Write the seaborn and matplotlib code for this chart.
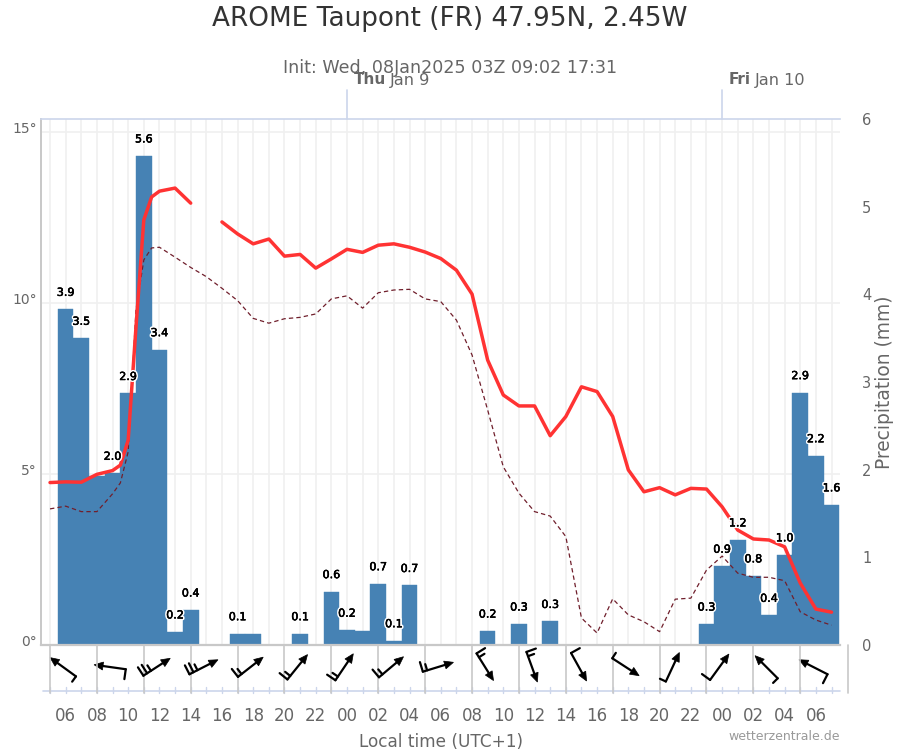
import numpy as np
import pandas as pd
import matplotlib
matplotlib.use("Agg")
import matplotlib.pyplot as plt
import matplotlib.patheffects as pe
from matplotlib.transforms import ScaledTranslation
import seaborn as sns

# hours relative to Thu 00 local time
rain_hours = list(range(-18, 32))
rain = [3.83, 3.50, 1.93, 1.96, 2.87, 5.58, 3.37, 0.15, 0.40, 0, 0, 0.13, 0.13, 0, 0, 0.13, 0,
        0.61, 0.17, 0.16, 0.70, 0.05, 0.68, 0, 0, 0, 0, 0.16, 0, 0.24, 0, 0.27, 0, 0, 0, 0, 0, 0, 0, 0, 0,
        0.24, 0.90, 1.20, 0.79, 0.34, 1.03, 2.88, 2.16, 1.60]
rain_labels = ["3.9", "3.5", "", "2.0", "2.9", "5.6", "3.4", "0.2", "0.4", "", "", "0.1", "", "", "", "0.1", "",
               "0.6", "0.2", "", "0.7", "0.1", "0.7", "", "", "", "", "0.2", "", "0.3", "", "0.3", "", "", "", "", "", "", "", "", "",
               "0.3", "0.9", "1.2", "0.8", "0.4", "1.0", "2.9", "2.2", "1.6"]

grid_hours = list(range(-19, 32))
temp_hours = [-19, -18, -17, -16, -15, -14.5, -14, -13.5, -13, -12.5] + list(range(-12, 32))
temp = [4.75, 4.77, 4.76, 4.99, 5.10, 5.26, 5.99, 9.30, 12.43, 13.10, 13.27, 13.36, 12.92, np.nan, 12.37, 12.02, 11.73, 11.87,
        11.37, 11.42, 11.02, 11.29, 11.57, 11.48, 11.69, 11.73, 11.63, 11.49, 11.30, 10.96, 10.26, 8.33,
        7.31, 6.99, 6.99, 6.12, 6.68, 7.55, 7.41, 6.68, 5.12, 4.48, 4.60, 4.39, 4.58, 4.56, 4.04, 3.36,
        3.10, 3.07, 2.87, 1.81, 1.05, 0.96]
dewpoint = [3.98, 4.06, 3.90, 3.90, 4.42, 4.74, 5.65, 9.80, 11.26, 11.61, 11.63, 11.34, 11.04, 10.77, 10.43, 10.07, 9.55, 9.41,
            9.54, 9.58, 9.68, 10.12, 10.21, 9.85, 10.30, 10.38, 10.40, 10.12, 10.04, 9.50, 8.48, 6.87,
            5.21, 4.44, 3.90, 3.77, 3.17, 0.79, 0.35, 1.35, 0.88, 0.68, 0.39, 1.34, 1.37, 2.19, 2.60, 2.10,
            1.98, 1.98, 1.88, 0.97, 0.73, 0.58]

xtick_hours = list(range(-18, 31, 2))
xtick_labels = ["06", "08", "10", "12", "14", "16", "18", "20", "22", "00", "02", "04", "06",
                "08", "10", "12", "14", "16", "18", "20", "22", "00", "02", "04", "06"]

# wind barbs, one every 3 hours
wind_hours = list(range(-19, 32, 3))
wind_angle = [144, 172, 33, 27, 38, 51, 56, 40, 17, -58, -70, -61, -33, 65, 54, 135, 153]
wind_long = [0, 1, 2, 2, 1, 1, 1, 1, 1, 1, 1, 1, 0, 0, 1, 0, 1]
wind_short = [1, 0, 1, 1, 1, 1, 1, 1, 1, 1, 1, 0, 1, 1, 0, 1, 0]

GREY = "#666666"
BLUE_LINE = "#ccd6eb"
AXIS_GREY = "#c8c8c8"

sns.set_theme(style="white", font="DejaVu Sans")
fig = plt.figure(figsize=(9, 7.5), dpi=100)

L, R, T, B = 41, 840, 119, 645
X0, XS = 347, 15.63
ax_rain = fig.add_axes([L / 900, (750 - B) / 750, (R - L) / 900, (B - T) / 750])
ax_temp = ax_rain.twinx()

df_rain = pd.DataFrame({"hour": rain_hours, "rain": rain})
sns.barplot(data=df_rain, x="hour", y="rain", native_scale=True, width=1, color="#4682b4", saturation=1,
            edgecolor="#4682b4", linewidth=0.3, errorbar=None, ax=ax_rain, zorder=2)

df_temp = pd.DataFrame({"hour": temp_hours, "temp": temp, "dew": dewpoint})
df_temp["seg"] = df_temp["temp"].isna().cumsum()
sns.lineplot(data=df_temp.dropna(subset=["temp"]), x="hour", y="temp", units="seg", estimator=None,
             color="#ff3333", linewidth=2.5, ax=ax_temp, zorder=3, solid_joinstyle="round", solid_capstyle="round")
sns.lineplot(data=df_temp, x="hour", y="dew", color="#701f2c", linewidth=0.9, linestyle=(0, (3.5, 2.5)),
             estimator=None, ax=ax_temp, zorder=2)

xmin, xmax = (L - X0) / XS, (R - X0) / XS
ax_rain.set_xlim(xmin, xmax)
ax_rain.set_ylim(0, 6)
ax_temp.set_ylim(0, (B - T) / 34.2)
ax_temp.set_xlim(xmin, xmax)

# gridlines stay behind the bars, so they live on the rain axes
ax_rain.set_axisbelow(True)
ax_rain.set_xticks(xtick_hours)
ax_rain.set_xticklabels(xtick_labels)
ax_rain.set_xticks(grid_hours, minor=True)
ax_rain.grid(axis="x", which="both", color="#f0f0f0", lw=1.2)
ax_rain.hlines([5, 10, 15], 0, 1, transform=ax_temp.get_yaxis_transform(), color="#f0f0f0", lw=1.2, zorder=0)
ax_rain.tick_params(axis="x", which="both", length=0, pad=44.5, labelsize=12, labelcolor=GREY)
ax_rain.set_xlabel("")
ax_rain.set_ylabel("")
ax_temp.set_xlabel("")
ax_temp.set_ylabel("")

ax_rain.yaxis.tick_right()
ax_rain.set_yticks(range(0, 7))
ax_rain.tick_params(axis="y", length=0, pad=16, labelsize=10.5, labelcolor=GREY)

ax_temp.yaxis.tick_left()
ax_temp.set_yticks([0, 5, 10, 15])
ax_temp.set_yticklabels(["0°", "5°", "10°", "15°"])
ax_temp.tick_params(axis="y", length=0, pad=3, labelsize=10, labelcolor=GREY)
for lab in ax_temp.get_yticklabels():
    lab.set_transform(lab.get_transform() + ScaledTranslation(0, 3 / 72, fig.dpi_scale_trans))
ax_temp.patch.set_visible(False)

for a in [ax_rain, ax_temp]:
    for s in a.spines.values():
        s.set_visible(False)
ax_temp.spines["left"].set_visible(True)
ax_temp.spines["left"].set_color(AXIS_GREY)
ax_temp.spines["left"].set_linewidth(1.4)
ax_temp.spines["bottom"].set_visible(True)
ax_temp.spines["bottom"].set_color(AXIS_GREY)
ax_temp.spines["bottom"].set_linewidth(1.6)
ax_temp.spines["top"].set_visible(True)
ax_temp.spines["top"].set_color(BLUE_LINE)
ax_temp.spines["top"].set_linewidth(1.2)

halo = [pe.withStroke(linewidth=2.6, foreground="white"),
        pe.Stroke(linewidth=0.35, foreground="black"), pe.Normal()]
for h, v, txt in zip(rain_hours, rain, rain_labels):
    if txt:
        ax_temp.annotate(txt, (h, v), xycoords=ax_rain.transData, xytext=(0, 11.8), textcoords="offset points",
                         ha="center", va="center", fontsize=8, color="black",
                         path_effects=halo, zorder=6)

# overlay in pixel coordinates for the wind band and the loose texts
px = fig.add_axes([0, 0, 1, 1], zorder=5)
px.set_xlim(0, 900)
px.set_ylim(750, 0)
px.axis("off")
px.patch.set_visible(False)


def xp(h):
    return X0 + XS * h


px.plot([L + 2, R], [691, 691], color=BLUE_LINE, lw=1.2)
for h in grid_hours:
    px.plot([xp(h), xp(h)], [687, 693], color=BLUE_LINE, lw=1)
for h in wind_hours:
    px.plot([xp(h), xp(h)], [646, 693], color=AXIS_GREY, lw=1.2)
px.plot([848, 848], [645, 693], color=AXIS_GREY, lw=1.2)


def draw_barb(h, angle, n_long, n_short):
    a = np.deg2rad(angle)
    d = np.array([np.cos(a), -np.sin(a)])
    perp = np.array([d[1], -d[0]])
    c = np.array([xp(h) + 13, 667.0])
    tail, head = c - d * 16, c + d * 16
    neck = head - d * 9
    px.plot([tail[0], neck[0]], [tail[1], neck[1]], color="black", lw=1.6, solid_capstyle="round")
    px.fill([head[0], neck[0] + perp[0] * 4, neck[0] - perp[0] * 4],
            [head[1], neck[1] + perp[1] * 4, neck[1] - perp[1] * 4], color="black", lw=0.5)
    pos = tail.copy()
    for i in range(n_long + n_short):
        size = 10 if i < n_long else 6.5
        end = pos + perp * size
        px.plot([pos[0], end[0]], [pos[1], end[1]], color="black", lw=1.6, solid_capstyle="round")
        pos = pos + d * 4.5


for h, ang, nl, ns in zip(wind_hours, wind_angle, wind_long, wind_short):
    draw_barb(h, ang, nl, ns)

# day markers above the plot
for h, day, date in [(0, "Thu", "Jan 9"), (24, "Fri", "Jan 10")]:
    px.plot([xp(h), xp(h)], [90, T], color=BLUE_LINE, lw=1.2)
    t = px.text(xp(h) + 7, 80, day, fontsize=11, fontweight="bold", color=GREY, va="center", ha="left")
    fig.canvas.draw()
    bb = t.get_window_extent()
    px.text(bb.x1 + 4, 80, date, fontsize=11.6, color=GREY, va="center", ha="left")

px.text(450, 19, "AROME Taupont (FR) 47.95N, 2.45W", fontsize=18.9, color="#333333", ha="center", va="center")
px.text(450, 68, "Init: Wed, 08Jan2025 03Z 09:02 17:31", fontsize=12.6, color=GREY, ha="center", va="center")
px.text(885, 382, "Precipitation (mm)", fontsize=13.4, color=GREY, rotation=90, ha="center", va="center")
px.text(441, 742, "Local time (UTC+1)", fontsize=12.2, color=GREY, ha="center", va="center")
px.text(840, 737, "wetterzentrale.de", fontsize=9, color="#999999", ha="right", va="center")

fig.savefig("out.png", dpi=100)
